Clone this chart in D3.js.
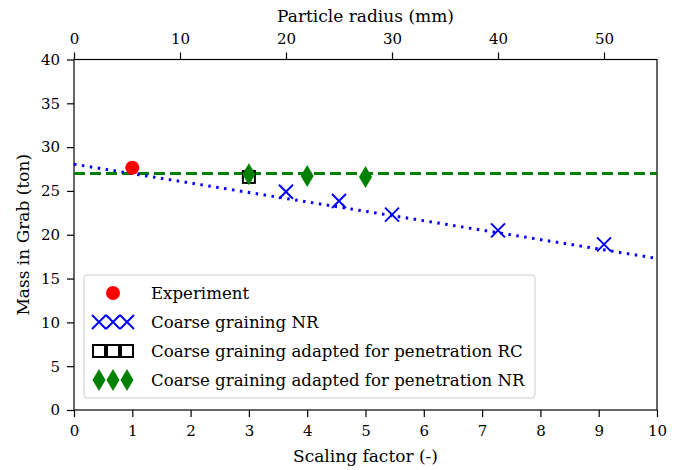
<!DOCTYPE html>
<html><head><meta charset="utf-8">
<script src="https://cdn.jsdelivr.net/npm/d3@7"></script>
<style>body{margin:0;background:#fff}text{font-family:"DejaVu Serif",serif}</style>
</head><body><svg id="c" width="681" height="470"></svg>
<script>
// Data
const experimentX = [1.0];
const experimentY = [27.65];
const nrX = [3.636, 4.545, 5.455, 7.273, 9.091];
const nrY = [24.9, 23.85, 22.3, 20.5, 18.9];
const rcX = [3.0];
const rcY = [26.6];
const penNrX = [3.0, 4.0, 5.0];
const penNrY = [26.9, 26.7, 26.6];
const fitX = [0, 10];
const fitY = [28.05, 17.3];
const refLevel = 27.0;
const xTicks = [0,1,2,3,4,5,6,7,8,9,10];
const yTicks = [0,5,10,15,20,25,30,35,40];
const topTicks = [0,10,20,30,40,50];
const legendLabels = ["Experiment","Coarse graining NR","Coarse graining adapted for penetration RC","Coarse graining adapted for penetration NR"];

const svg = d3.select("#c");
const L=74,R=657,T=59.5,B=410;
const x = d3.scaleLinear().domain([0,10]).range([L,R]);
const xTop = d3.scaleLinear().domain([0,55]).range([L,R]);
const y = d3.scaleLinear().domain([0,40]).range([B,T]);

const fs=15;
function style(g){g.select(".domain").remove();g.selectAll("text").attr("font-size",fs).attr("fill","#000");g.selectAll("line").attr("stroke","#000").attr("stroke-width",1.2);}
svg.append("g").attr("transform",`translate(0,${B})`).call(d3.axisBottom(x).tickValues(xTicks).tickSize(7).tickPadding(8).tickFormat(d3.format("d"))).call(style);
svg.append("g").attr("transform",`translate(0,${T})`).call(d3.axisTop(xTop).tickValues(topTicks).tickSize(7).tickPadding(9).tickFormat(d3.format("d"))).call(style);
svg.append("g").attr("transform",`translate(${L},0)`).call(d3.axisLeft(y).tickValues(yTicks).tickSize(7).tickPadding(7).tickFormat(d3.format("d"))).call(style);

svg.append("rect").attr("x",L).attr("y",T).attr("width",R-L).attr("height",B-T).attr("fill","none").attr("stroke","#000").attr("stroke-width",1.2);

const plot = svg.append("g");
plot.append("line").attr("x1",x(0)).attr("x2",x(10)).attr("y1",y(refLevel)).attr("y2",y(refLevel))
  .attr("stroke","green").attr("stroke-width",3).attr("stroke-dasharray","11 5");
plot.append("path").datum(fitX.map((d,i)=>[d,fitY[i]])).attr("d",d3.line().x(d=>x(d[0])).y(d=>y(d[1])))
  .attr("fill","none").attr("stroke","blue").attr("stroke-width",3).attr("stroke-dasharray","2.5 5.5");

function circle(g,cx,cy){g.append("circle").attr("cx",cx).attr("cy",cy).attr("r",7).attr("fill","red");}
function cross(g,cx,cy){const s=7;g.append("path").attr("d",`M${cx-s},${cy-s}L${cx+s},${cy+s}M${cx-s},${cy+s}L${cx+s},${cy-s}`).attr("stroke","blue").attr("stroke-width",2).attr("fill","none");}
function square(g,cx,cy){const s=6;g.append("rect").attr("x",cx-s).attr("y",cy-s).attr("width",2*s).attr("height",2*s).attr("fill","none").attr("stroke","#000").attr("stroke-width",2);}
function diamond(g,cx,cy){const w=6.5,h=11;g.append("path").attr("d",`M${cx},${cy-h}L${cx+w},${cy}L${cx},${cy+h}L${cx-w},${cy}Z`).attr("fill","green");}

experimentX.forEach((d,i)=>circle(plot,x(d),y(experimentY[i])));
nrX.forEach((d,i)=>cross(plot,x(d),y(nrY[i])));
rcX.forEach((d,i)=>square(plot,x(d),y(rcY[i])));
penNrX.forEach((d,i)=>diamond(plot,x(d),y(penNrY[i])));

const lg = svg.append("g");
lg.append("rect").attr("x",84).attr("y",275).attr("width",451).attr("height",123).attr("rx",3)
  .attr("fill","#fff").attr("fill-opacity",0.8).attr("stroke","#ccc").attr("stroke-width",1);
const rows=[293,322,351,380];
const mx=[99,113,127];
circle(lg,113,rows[0]);
mx.forEach(m=>cross(lg,m,rows[1]));
mx.forEach(m=>square(lg,m,rows[2]));
mx.forEach(m=>diamond(lg,m,rows[3]));
legendLabels.forEach((t,i)=>lg.append("text").attr("x",151).attr("y",rows[i]).attr("dy","0.35em").attr("font-size",16.6).attr("fill","#000").text(t));

svg.append("text").attr("x",(L+R)/2).attr("y",462).attr("text-anchor","middle").attr("font-size",17).text("Scaling factor (-)");
svg.append("text").attr("x",(L+R)/2).attr("y",22).attr("text-anchor","middle").attr("font-size",17).text("Particle radius (mm)");
svg.append("text").attr("transform",`translate(29,${(T+B)/2}) rotate(-90)`).attr("text-anchor","middle").attr("font-size",17).text("Mass in Grab (ton)");
</script></body></html>
